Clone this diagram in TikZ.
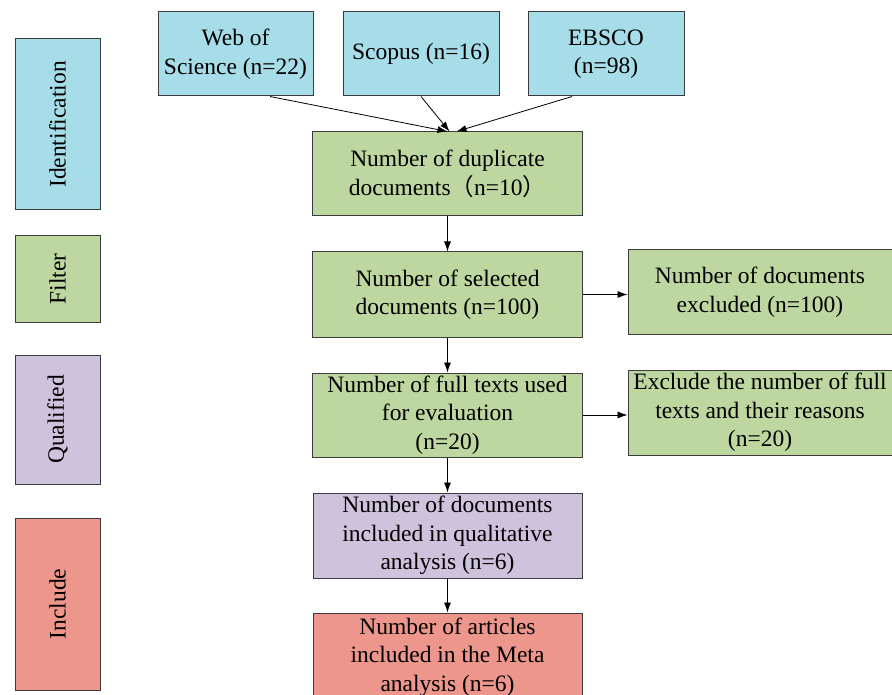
\documentclass[tikz,border=0pt]{standalone}
\usepackage{fontspec}
\setmainfont{Liberation Serif}
\newfontfamily\cjk{Noto Sans CJK SC}
\usetikzlibrary{arrows.meta}
\definecolor{cblue}{RGB}{166,221,232}
\definecolor{cgreen}{RGB}{190,215,160}
\definecolor{cpurple}{RGB}{207,194,220}
\definecolor{cred}{RGB}{237,150,140}
\definecolor{edge}{RGB}{60,60,60}
\tikzset{
  box/.style={draw=edge, line width=1pt, inner sep=0pt, align=center,
    font=\fontsize{23.5}{28.5}\selectfont},
  side/.style={box, rotate=90},
  arr/.style={-{Latex[length=10pt,width=7pt]}, line width=0.8pt, draw=black}
}
\begin{document}
\begin{tikzpicture}[x=1pt,y=-1pt]
\useasboundingbox (0,0) rectangle (892,695);
\fill[white] (0,0) rectangle (892,695);
% side labels
\node[side, fill=cblue, minimum width=171pt, minimum height=85pt] (ident) at (57.5,124.5) {Identification};
\node[side, fill=cgreen, minimum width=86pt, minimum height=85pt] (filter) at (57.5,279) {Filter};
\node[side, fill=cpurple, minimum width=129pt, minimum height=85pt] (qual) at (57.5,419.5) {Qualified};
\node[side, fill=cred, minimum width=172pt, minimum height=85pt] (incl) at (57.5,604) {Include};
% sources
\node[box, fill=cblue, minimum width=155pt, minimum height=84pt] (web) at (235.5,54) {Web of\\Science (n=22)};
\node[box, fill=cblue, minimum width=156pt, minimum height=84pt] (scopus) at (421,54) {Scopus (n=16)};
\node[box, fill=cblue, minimum width=156pt, minimum height=84pt] (ebsco) at (606,54) {EBSCO\\(n=98)};
% main column
\node[box, fill=cgreen, minimum width=270pt, minimum height=84pt] (dup) at (447.5,174) {Number of duplicate\\documents{\cjk （}n=10{\cjk ）}};
\node[box, fill=cgreen, minimum width=270pt, minimum height=85pt] (sel) at (447.5,294.5) {Number of selected\\documents (n=100)};
\node[box, fill=cgreen, minimum width=264pt, minimum height=84pt] (excl) at (760,292) {Number of documents\\excluded (n=100)};
\node[box, fill=cgreen, minimum width=270pt, minimum height=84pt] (full) at (447.5,415) {Number of full texts used\\for evaluation\\(n=20)};
\node[box, fill=cgreen, minimum width=264pt, minimum height=85pt] (exfull) at (760,412.5) {Exclude the number of full\\texts and their reasons\\(n=20)};
\node[box, fill=cpurple, minimum width=269pt, minimum height=85pt] (qualit) at (447.5,535.5) {Number of documents\\included in qualitative\\analysis (n=6)};
\node[box, fill=cred, minimum width=269pt, minimum height=88pt] (meta) at (447.5,657) {Number of articles\\included in the Meta\\analysis (n=6)};
% connectors
\draw[arr] ([xshift=34.5pt]web.south) -- (dup.north);
\draw[arr] (scopus.south) -- ([xshift=2pt]dup.north);
\draw[arr] ([xshift=-34pt]ebsco.south) -- ([xshift=9pt]dup.north);
\draw[arr] (dup.south) -- (sel.north);
\draw[arr] (sel.south) -- (full.north);
\draw[arr] (full.south) -- (qualit.north);
\draw[arr] (qualit.south) -- (meta.north);
\draw[arr] (sel.east) -- (sel.east -| excl.west);
\draw[arr] (full.east) -- (full.east -| exfull.west);
\end{tikzpicture}
\end{document}
